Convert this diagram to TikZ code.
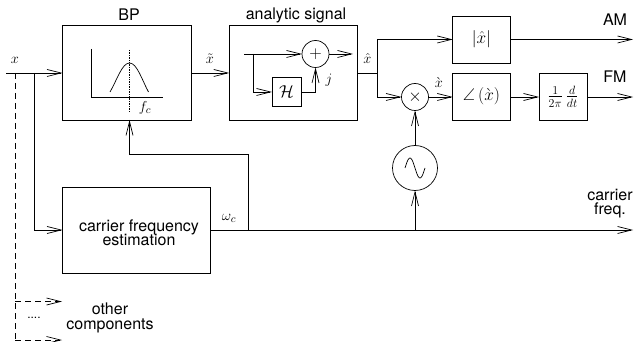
\documentclass[tikz,border=0pt]{standalone}
\usepackage{fontspec}
\usepackage{amsmath}
\usepackage{amssymb}
\setsansfont{TeX Gyre Heros}
\usetikzlibrary{arrows.meta}
\tikzset{
	sig/.style={-{Straight Barb[length=14pt,width=7pt]}},
	block/.style={draw, inner sep=0pt, outer sep=0pt, font=\fontsize{17}{19}\selectfont},
	sum/.style={draw, circle, inner sep=0pt, outer sep=0pt, font=\fontsize{19}{19}\selectfont},
	caption/.style={inner sep=0pt, align=center, font=\sffamily\fontsize{16}{16}\selectfont},
	sym/.style={inner sep=0pt, font=\fontsize{15}{17}\selectfont}
}
\begin{document}
\begin{tikzpicture}[x=1pt, y=-1pt, line width=0.7pt]
		\useasboundingbox (0,0) rectangle (635,342);
		% Blocks
		\node[block, minimum width=129pt, minimum height=95pt] (bp) at (127,72.5) {};
		\node[block, minimum width=128.5pt, minimum height=95pt] (analytic) at (293.5,72.5) {};
		\node[block, minimum width=29pt, minimum height=28.5pt] (hilbert) at (286.5,92) {$\mathcal{H}$};
		\node[sum, minimum size=27pt] (plus) at (315.5,54) {$+$};
		\node[block, minimum width=57.5pt, minimum height=47pt] (env) at (481.5,39.5) {$|\hat{x}|$};
		\node[block, minimum width=57.5pt, minimum height=47pt] (phase) at (481.5,96.5) {$\angle\,(\grave{x})$};
		\node[block, minimum width=48pt, minimum height=47pt] (deriv) at (563,96.5) {$\frac{1}{2\pi}\,\frac{d}{dt}$};
		\node[sum, minimum size=27pt] (mixer) at (415,97) {$\times$};
		\node[sum, minimum size=45pt] (osc) at (415,168) {};
		\node[block, minimum width=147.5pt, minimum height=86pt] (estim) at (136.25,230) {};
		% Labels
		\node[caption] (bplabel) at (129,15) {BP};
		\node[caption] (analabel) at (296,15) {analytic signal};
		\node[caption] (amlabel) at (615,20) {AM};
		\node[caption] (fmlabel) at (615,77) {FM};
		\node[caption] (carrierlabel) at (610,204) {carrier\\[-2pt]freq.};
		\node[caption] (estlabel) at (139,233) {carrier frequency\\[-2pt]estimation};
		\node[caption] (otherlabel) at (110,318) {other\\[-1pt]components};
		\node[sym] (xlabel) at (15,60) {$x$};
		\node[sym] (tildelabel) at (210,59) {$\tilde{x}$};
		\node[sym] (hatlabel) at (367.5,59) {$\hat{x}$};
		\node[sym] (gravelabel) at (439,83) {$\grave{x}$};
		\node[sym] (jlabel) at (329,80) {$j$};
		\node[sym] (fclabel) at (145,108) {$f_c$};
		\node[sym] (wclabel) at (229,218) {$\omega_c$};
		\node[inner sep=0pt, font=\sffamily\fontsize{12}{14}\selectfont] (dotslabel) at (34,318) {....};
		% Free ends and branch points
		\coordinate (in) at (6,73);
		\coordinate (split) at (34,73);
		\coordinate (dashsplit) at (15,73);
		\coordinate (out) at (377,73);
		\coordinate (rate) at (248,230);
		\coordinate (fb) at (129.5,154);
		\coordinate (tap) at (415,230);
		\coordinate (carrier) at (633,230);
		\coordinate (inner) at (244,54);
		\coordinate (branch) at (253,54);
		% Input
		\draw[sig] (in) -- (bp.west |- in);
		\draw[sig] (split) |- (estim.west);
		\draw[dash pattern=on 6pt off 4pt] (dashsplit) -- (15,340);
		\draw[sig, dash pattern=on 6pt off 4pt] (15,301.5) -- (62,301.5);
		\draw[sig, dash pattern=on 6pt off 4pt] (15,340) -- (62,340);
		% Band pass sketch
		\draw (91.5,49) -- (91.5,97) -- (163,97);
		\draw (110,92) .. controls (117,80) and (122,63) .. (129.5,63) .. controls (137,63) and (142,80) .. (148.5,92);
		\draw[densely dotted] (fb |- 0,50) -- (fb |- 0,112);
		% Analytic signal
		\draw[sig] (bp.east |- in) -- (analytic.west |- in);
		\draw[sig] (inner) -- (plus.west);
		\draw[sig] (plus.east) -- (353,54);
		\draw[sig] (branch) |- (hilbert.west);
		\draw[sig] (hilbert.east) -| (plus.south);
		% Outputs
		\draw[sig] (analytic.east |- out) -- (out) |- (env.west);
		\draw[sig] (out) |- (mixer.west);
		\draw[sig] (mixer.east) -- (phase.west |- mixer);
		\draw[sig] (phase.east |- mixer) -- (deriv.west |- mixer);
		\draw[sig] (deriv.east |- mixer) -- (633,97);
		\draw[sig] (env.east) -- (633,39.5);
		% Carrier
		\draw[sig] (estim.east) -- (carrier);
		\draw[sig] (rate) |- (fb) -- (fb |- bp.south);
		\draw[sig] (tap) -- (osc.south);
		\draw[sig] (osc.north) -- (mixer.south);
		\draw[domain=-180:180, samples=37, smooth] plot ({415+\x/18}, {168+10*sin(\x)});
	\end{tikzpicture}
\end{document}
